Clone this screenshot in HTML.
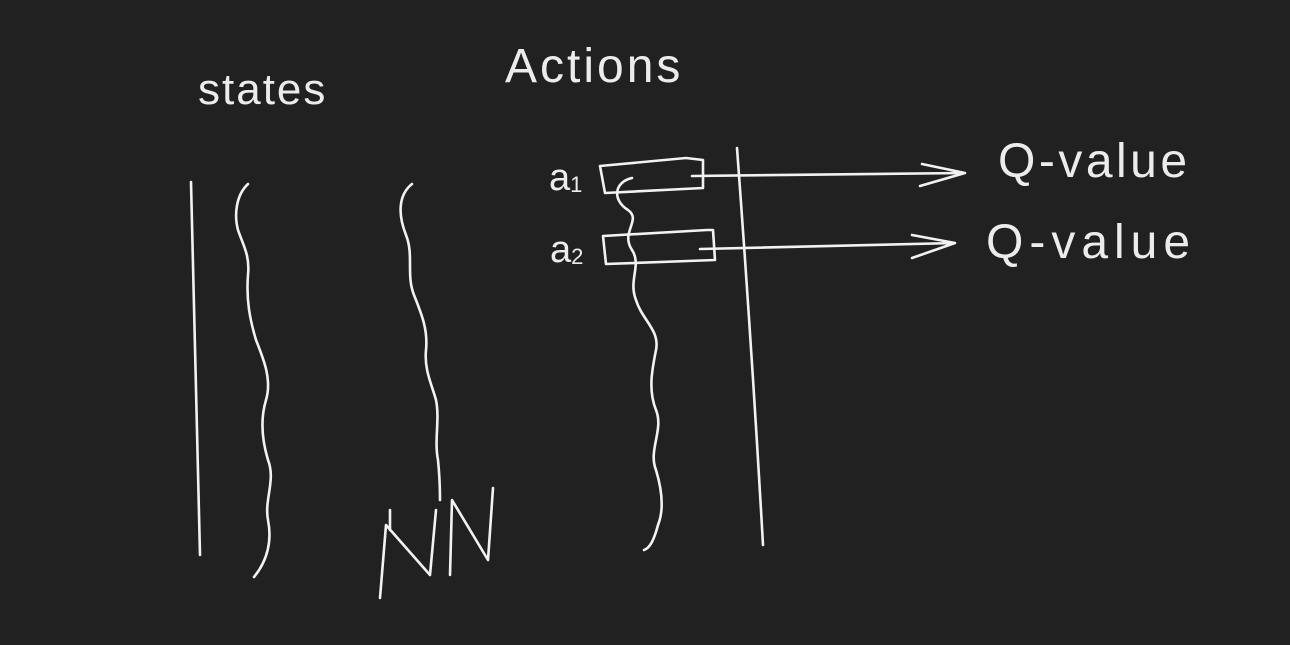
<!DOCTYPE html>
<html><head><meta charset="utf-8"><style>
html,body{margin:0;padding:0;background:#212121;}
svg{display:block}
text{font-family:"Liberation Sans",sans-serif;fill:#ececec;font-weight:normal}
</style></head><body>
<svg width="1290" height="645" viewBox="0 0 1290 645">
<rect width="1290" height="645" fill="#212121"/>
<g fill="none" stroke="#f2f2f2" stroke-width="2.6" stroke-linecap="round" stroke-linejoin="round">
<path d="M191 182 Q196 370 200 555"/>
<path d="M248 184 C236 195 234 215 238 230 C243 245 250 255 248 275 C246 300 250 320 256 340 C264 360 272 380 266 400 C260 420 262 440 268 460 C276 480 264 500 268 520 C272 540 268 560 254 577"/>
<path d="M412 184 C398 195 398 215 406 235 C414 255 406 275 414 295 C422 315 428 330 426 350 C424 370 432 385 436 400 C440 420 434 440 438 460 C440 480 440 490 440 500"/>
<path d="M632 178 C614 182 612 200 628 210 C642 220 620 232 632 250 C642 265 628 280 636 300 C642 320 660 330 656 350 C652 370 648 390 656 410 C664 430 648 450 656 470 C662 490 664 510 658 525 C654 540 650 548 644 550"/>
<path d="M737 148 Q752 350 763 545"/>
<path d="M600 166 L686 158 L703 160 L703 188 L605 193 Z"/>
<path d="M603 236 L707 230 L713 230 L715 260 L606 264 Z"/>
<path d="M692 176 L965 173 M922 164 L965 173 L920 186"/>
<path d="M700 249 L955 243 M912 235 L955 243 L912 258"/>
<path d="M380 598 L386 525 L430 575 L436 510 M390 510 L390 530"/>
<path d="M450 575 L452 500 L488 560 L493 488"/>
</g>
<text x="198" y="104" font-size="44" letter-spacing="2">states</text>
<text x="505" y="82" font-size="48" letter-spacing="3">Actions</text>
<text x="549" y="190" font-size="38">a<tspan font-size="22" dy="2">1</tspan></text>
<text x="550" y="262" font-size="38">a<tspan font-size="22" dy="2">2</tspan></text>
<text x="998" y="177" font-size="48" letter-spacing="3.5">Q-value</text>
<text x="986" y="258" font-size="48" letter-spacing="6">Q-value</text>
</svg>
</body></html>
